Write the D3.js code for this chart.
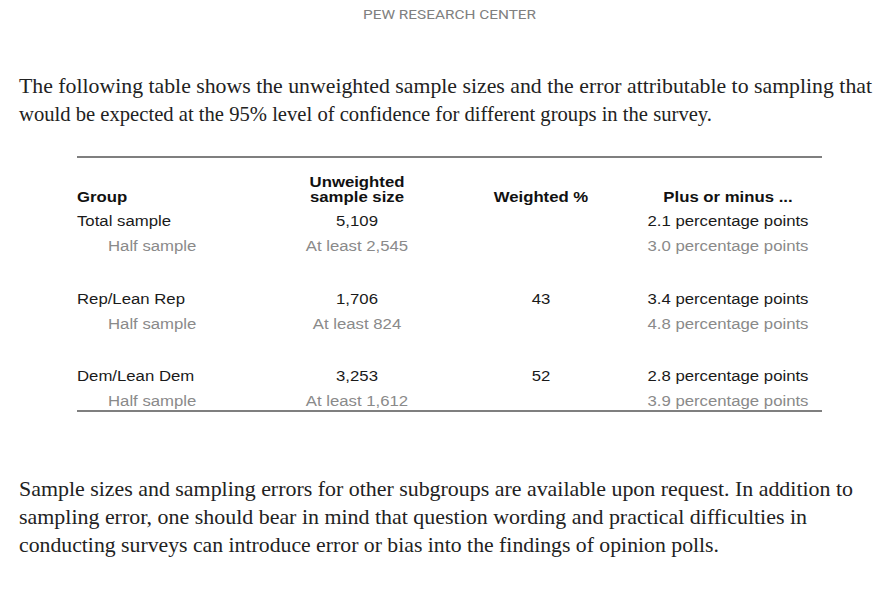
<!DOCTYPE html>
<html><head><meta charset="utf-8">
<script src="https://cdn.jsdelivr.net/npm/d3@7"></script>
<style>
html,body{margin:0;padding:0;background:#fff;}
svg{display:block;}
</style></head>
<body>
<script>
const groups = ["Total sample", "Rep/Lean Rep", "Dem/Lean Dem"];
const sampleSizes = ["5,109", "1,706", "3,253"];
const halfSizes = ["At least 2,545", "At least 824", "At least 1,612"];
const weighted = ["", "43", "52"];
const margins = [2.1, 3.4, 2.8];
const halfMargins = [3.0, 4.8, 3.9];
const headers = ["Group", "Unweighted\nsample size", "Weighted %", "Plus or minus ..."];
const introLines = [
  "The following table shows the unweighted sample sizes and the error attributable to sampling that",
  "would be expected at the 95% level of confidence for different groups in the survey."
];
const footLines = [
  "Sample sizes and sampling errors for other subgroups are available upon request. In addition to",
  "sampling error, one should bear in mind that question wording and practical difficulties in",
  "conducting surveys can introduce error or bias into the findings of opinion polls."
];
const introWidths = [853, 693];
const footWidths = [834, 788, 700];

const W = 884, H = 589;
const svg = d3.select("body").append("svg").attr("width", W).attr("height", H);

svg.append("text").attr("x", 449.5).attr("y", 18.5).attr("text-anchor", "middle")
  .attr("font-family", "Roboto, sans-serif").attr("font-size", 13).attr("fill", "#808080")
  .attr("textLength", 173).attr("lengthAdjust", "spacingAndGlyphs")
  .text("PEW RESEARCH CENTER");

const serif = "'Liberation Serif', 'DejaVu Serif', serif";
svg.selectAll("text.intro").data(introLines).join("text").attr("class", "intro")
  .attr("x", 19).attr("y", (d, i) => 93 + i * 28)
  .attr("font-family", serif).attr("font-size", 21).attr("fill", "#222")
  .attr("textLength", (d, i) => introWidths[i]).attr("lengthAdjust", "spacingAndGlyphs")
  .text(d => d);

svg.selectAll("text.foot").data(footLines).join("text").attr("class", "foot")
  .attr("x", 19).attr("y", (d, i) => 496 + i * 28)
  .attr("font-family", serif).attr("font-size", 21).attr("fill", "#222")
  .attr("textLength", (d, i) => footWidths[i]).attr("lengthAdjust", "spacingAndGlyphs")
  .text(d => d);

// table
const x0 = 77, x1 = 822;
const colX = d3.scaleOrdinal().domain([0,1,2,3]).range([77, 357, 541, 728]);
const sans = "'Liberation Sans', Arial, sans-serif";
const dark = "#1a1a1a", gray = "#8a8a8a";
const fs = 15.5;
const stretch = 1.08;

function widen(sel) {
  sel.each(function() {
    const w = this.getComputedTextLength();
    if (w > 0) d3.select(this).attr("textLength", w * stretch).attr("lengthAdjust", "spacingAndGlyphs");
  });
  return sel;
}

svg.append("line").attr("x1", x0).attr("x2", x1).attr("y1", 157).attr("y2", 157)
  .attr("stroke", "#555").attr("stroke-width", 1.5);

headers.forEach((h, i) => {
  const lines = h.split("\n");
  lines.forEach((l, j) => {
    const t = svg.append("text").attr("font-family", sans).attr("font-size", fs)
      .attr("font-weight", "bold").attr("fill", "#111")
      .attr("text-anchor", i === 0 ? "start" : "middle")
      .attr("x", colX(i)).attr("y", 202 - (lines.length - 1 - j) * 15.5).text(l);
    widen(t);
  });
});

const rowY = d3.scalePoint().domain(groups).range([226, 381]);
const fmt = d3.format(".1f");

groups.forEach((g, k) => {
  const y = rowY(g);
  const main = [g, sampleSizes[k], weighted[k], fmt(margins[k]) + " percentage points"];
  const half = ["Half sample", halfSizes[k], "", fmt(halfMargins[k]) + " percentage points"];
  main.forEach((v, i) => {
    widen(svg.append("text").attr("x", colX(i)).attr("y", y)
      .attr("text-anchor", i === 0 ? "start" : "middle")
      .attr("font-family", sans).attr("font-size", fs).attr("fill", dark).text(v));
  });
  half.forEach((v, i) => {
    widen(svg.append("text").attr("x", i === 0 ? 108 : colX(i)).attr("y", y + 25)
      .attr("text-anchor", i === 0 ? "start" : "middle")
      .attr("font-family", sans).attr("font-size", fs).attr("fill", gray).text(v));
  });
});

svg.append("line").attr("x1", x0).attr("x2", x1).attr("y1", 411).attr("y2", 411)
  .attr("stroke", "#555").attr("stroke-width", 1.5);
</script>
</body></html>
